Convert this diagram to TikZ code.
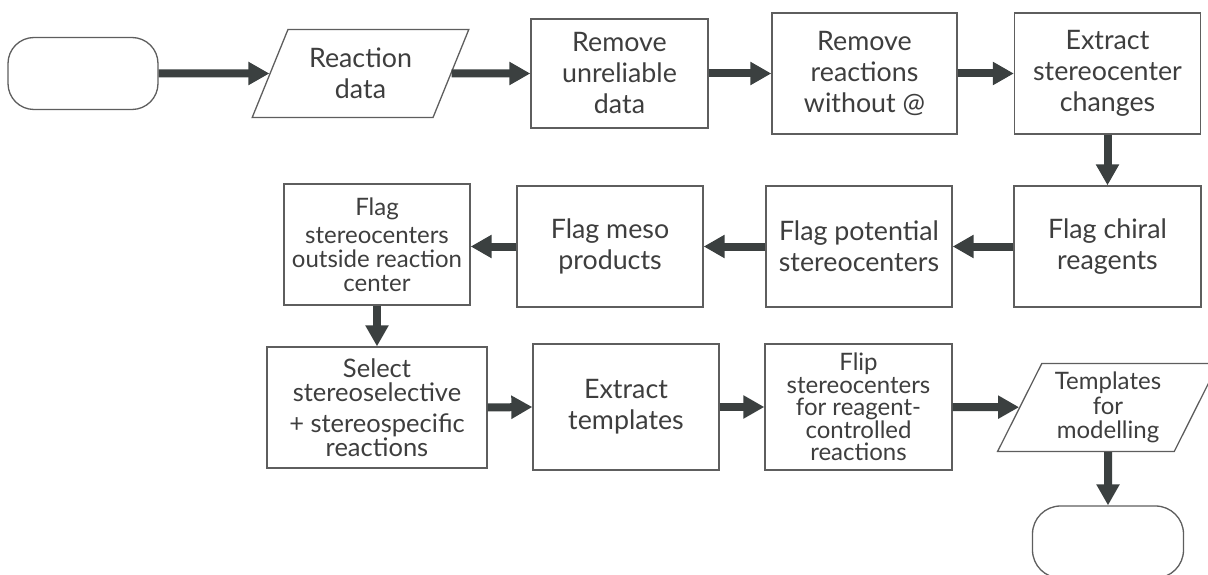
\documentclass[tikz,border=0pt]{standalone}
\usepackage{fontspec}
\setmainfont{Lato}
\usetikzlibrary{arrows.meta,shapes.geometric}
\definecolor{txtgray}{HTML}{3E3E3E}
\definecolor{edgegray}{HTML}{5E5E5E}
\definecolor{arrowdark}{HTML}{3B4040}
\newcommand{\fbig}{\fontsize{26.8}{31}\selectfont}
\newcommand{\fflip}{\fontsize{24}{22.5}\selectfont}
\newcommand{\foutside}{\fontsize{24}{24}\selectfont}
\newcommand{\fselect}{\fontsize{25.5}{23.5}\selectfont}
\newcommand{\fmodel}{\fontsize{24}{24.5}\selectfont}
\begin{document}
\begin{tikzpicture}[x=1pt,y=-1pt,
  shapeline/.style={draw=edgegray,line width=1.3pt,fill=white},
  box/.style={shapeline,rectangle,text=txtgray,align=center,inner sep=1pt,
    minimum width=#1},
  box/.default=186pt,
  tall/.style={minimum height=121pt},
  bigtxt/.style={font=\fbig},
  terminal/.style={shapeline,rectangle,rounded corners=26pt,
    minimum width=150pt,minimum height=72pt},
  iobox/.style={shapeline,trapezium,trapezium left angle=63.5,
    trapezium right angle=116.5,trapezium stretches=true,
    text=txtgray,align=center,inner sep=0pt,minimum width=#1,minimum height=88pt},
  conn/.style={draw=arrowdark,line width=8pt,-{Triangle[length=21pt,width=22pt]}}
]
\useasboundingbox (0,0) rectangle (1208,575);
\clip (0,0) rectangle (1208,575);

% first row: input and cleaning
\node[terminal] (start) at (83,73.5) {};
\node[iobox=217pt,bigtxt] (data) at (360.5,73.5) {Reaction\\data};
\node[box=177pt,minimum height=109pt,bigtxt] (unrel) at (619.5,73.5) {Remove\\unreliable\\data};
\node[box=185pt,tall,bigtxt] (noat) at (864.5,73.5) {Remove\\reactions\\without @};
\node[box,tall,bigtxt] (extract) at (1107.5,73.5) {Extract\\stereocenter\\changes};

% second row: flagging steps
\node[box=187pt,tall,bigtxt] (chiral) at (1107.5,246.5) {Flag chiral\\reagents};
\node[box,tall,bigtxt] (potential) at (859,246.5) {Flag potential\\stereocenters};
\node[box,tall,bigtxt] (meso) at (610,246.5) {Flag meso\\products};
\node[box,tall,font=\foutside] (outside) at (377,244.5)
  {Flag\\[4pt]stereocenters\\outside reaction\\center};

% third row: selection and template extraction
\node[box=220pt,tall,font=\fselect] (select) at (377,407.5)
  {Select\\stereoselective\\[8pt]+ stereospecific\\reactions};
\node[box,minimum height=126pt,bigtxt] (templ) at (626,407) {Extract\\templates};
\node[box=187pt,minimum height=126pt,font=\fflip] (flip) at (858.5,407)
  {Flip\\stereocenters\\for reagent-\\controlled\\reactions};
\node[iobox=221pt,font=\fmodel] (model) at (1108,407.5)
  {Templates\\for\\modelling};
\node[terminal,minimum width=151pt,rounded corners=28pt] (stop) at (1108,542) {};

% connectors
\draw[conn] (start.east) -- (data);
\draw[conn] (data) -- (unrel.west);
\draw[conn] (unrel.east) -- (noat.west);
\draw[conn] (noat.east) -- (extract.west);
\draw[conn] (extract.south) -- (chiral.north);
\draw[conn] (chiral.west) -- (potential.east);
\draw[conn] (potential.west) -- (meso.east);
\draw[conn] (meso.west) -- (outside.east|-meso.west);
\draw[conn] (outside.south) -- (select.north);
\draw[conn] (select.east) -- (templ.west);
\draw[conn] (templ.east) -- (flip.west);
\draw[conn] (flip.east) -- (model);
\draw[conn] (model.south) -- (stop.north);
\end{tikzpicture}
\end{document}
